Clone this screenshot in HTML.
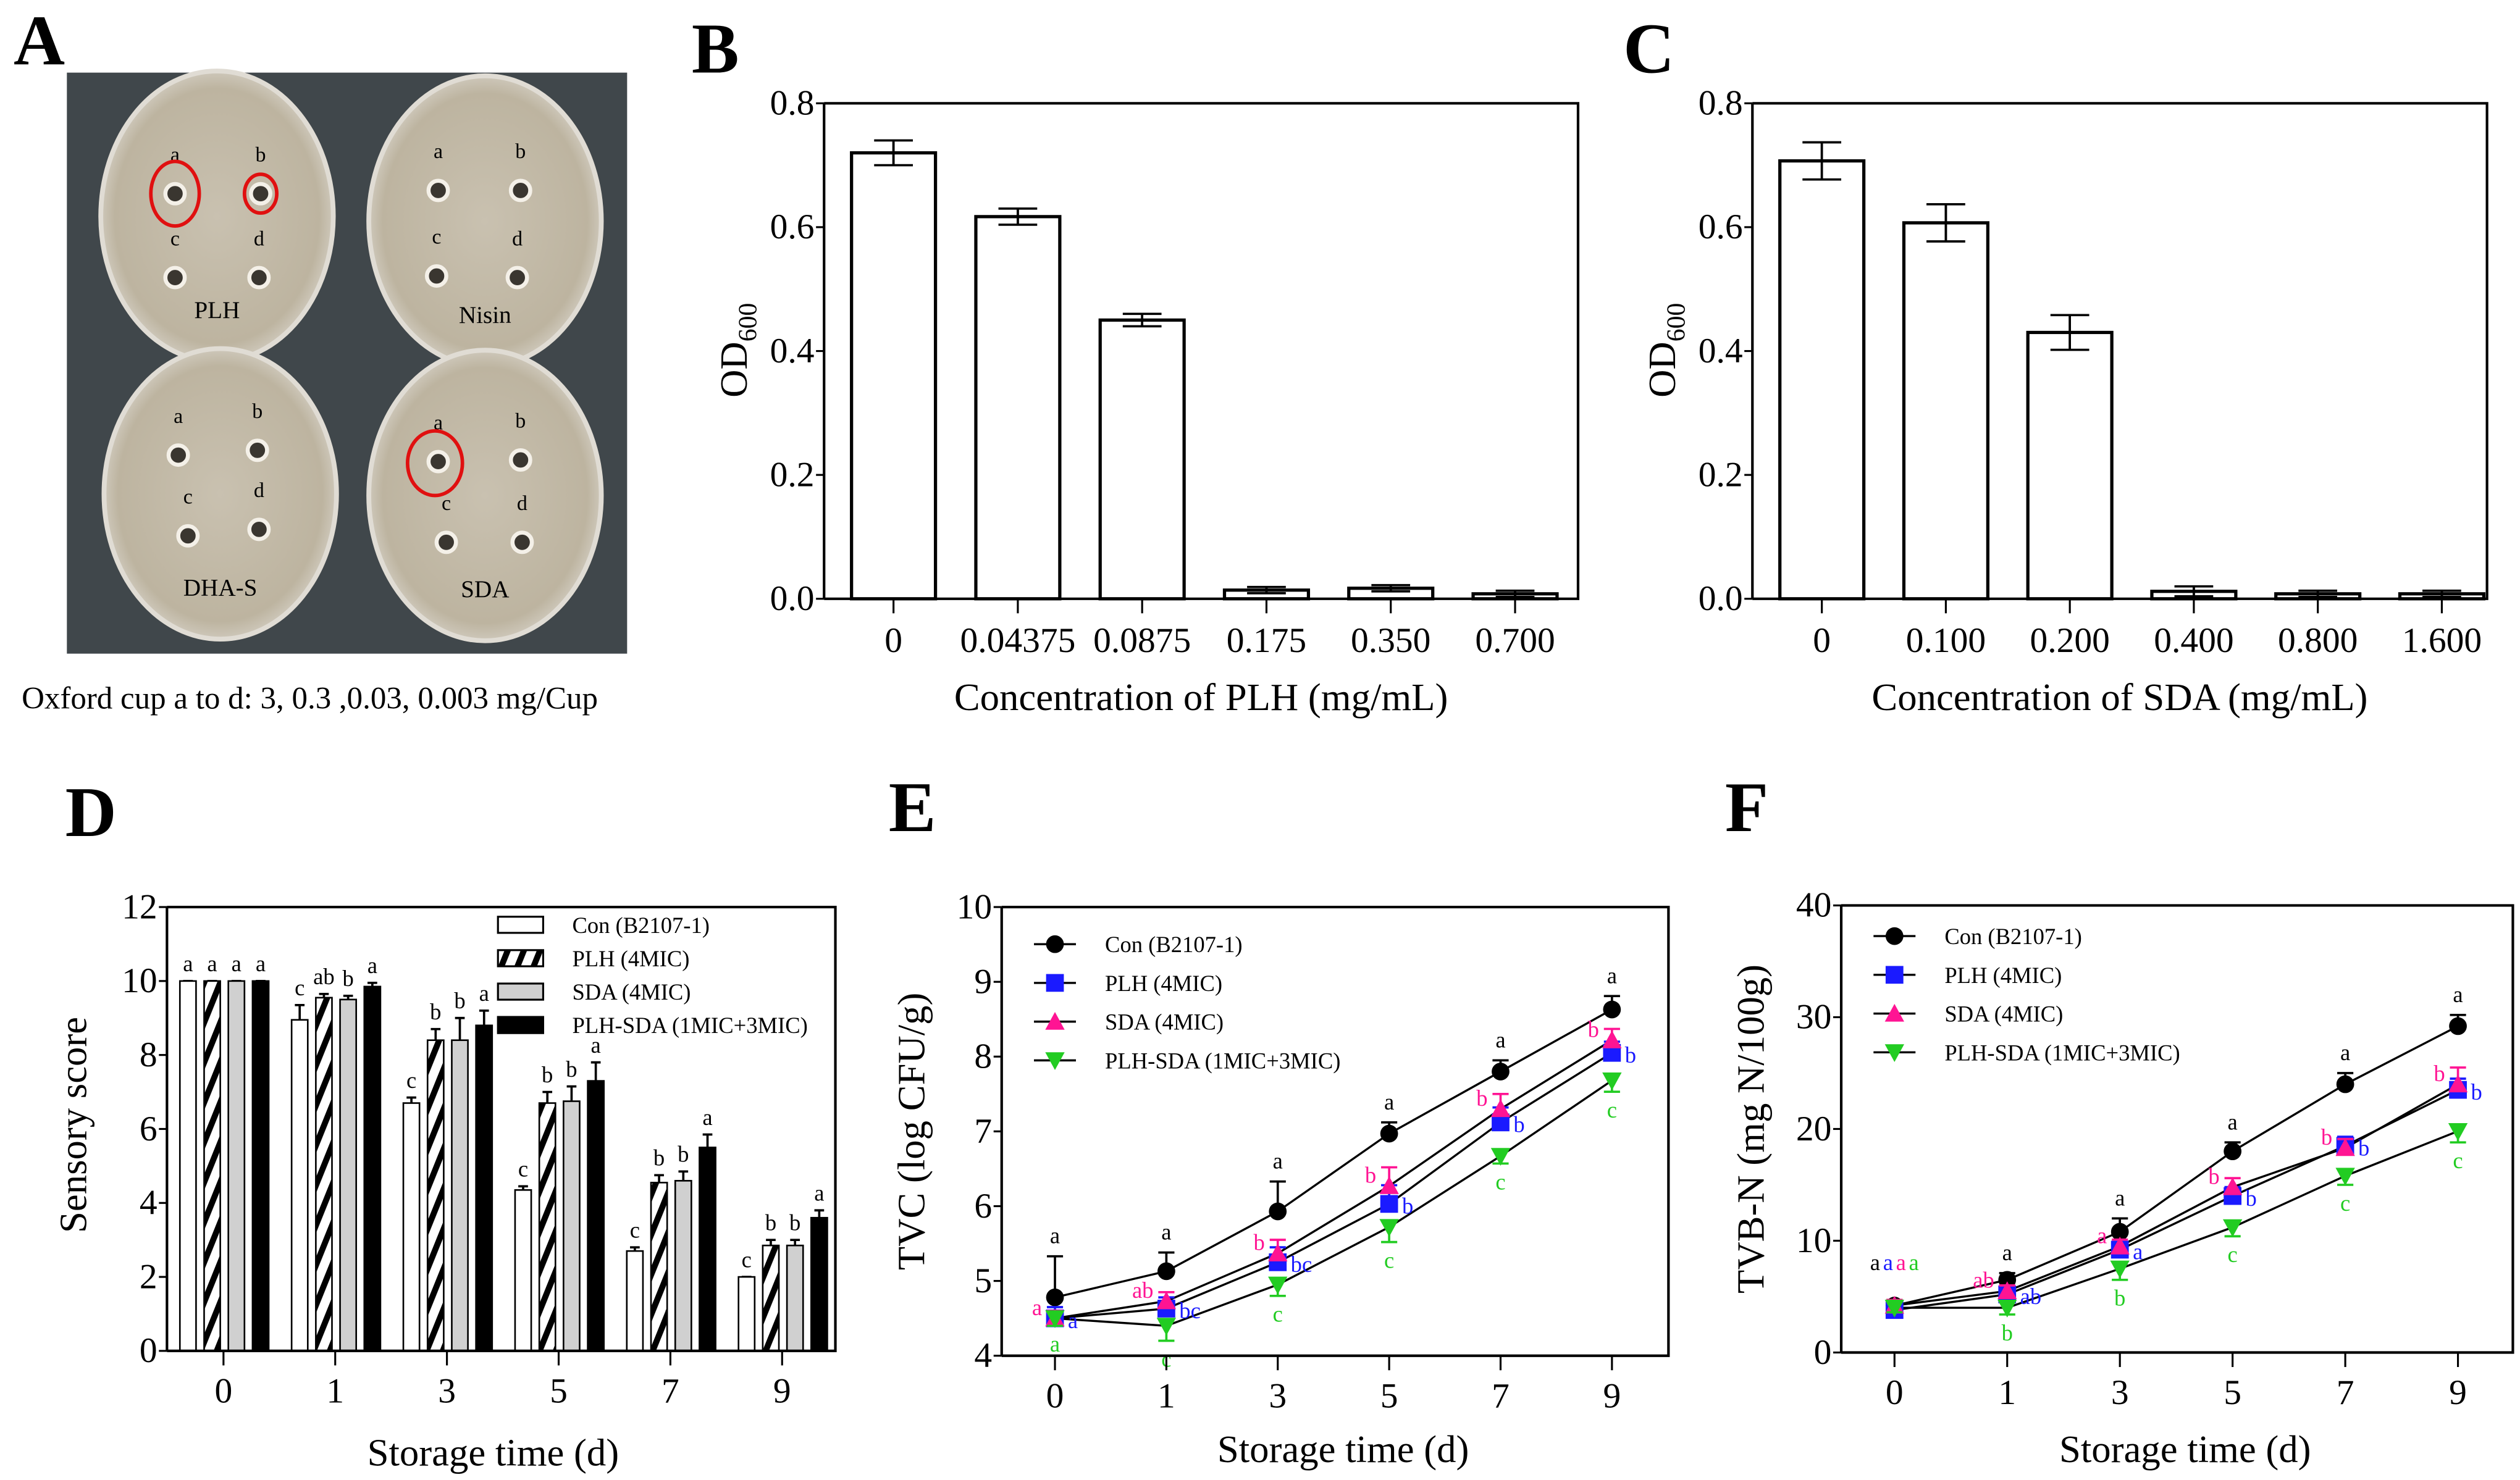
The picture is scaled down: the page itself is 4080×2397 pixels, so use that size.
<!DOCTYPE html>
<html><head><meta charset="utf-8"><style>
html,body{margin:0;padding:0;background:#fff;}
svg{display:block;font-family:"Liberation Serif",serif;}
</style></head><body>
<svg id="fig" width="4080" height="2397" viewBox="0 0 1560 917" xmlns="http://www.w3.org/2000/svg">
<defs>
<pattern id="hatch" patternUnits="userSpaceOnUse" width="10" height="14" patternTransform="skewX(-22)">
<rect width="10" height="14" fill="#fff"/><rect x="0" y="0" width="4" height="14" fill="#000"/></pattern>
<radialGradient id="plate" cx="50%" cy="50%" r="55%"><stop offset="0" stop-color="#c9c1b0"/><stop offset="0.8" stop-color="#bdb4a0"/><stop offset="1" stop-color="#dcd8d0"/></radialGradient>
</defs>
<g id="root"></g>
</svg>
<script>
// ---- data ----
const bCats=["0","0.04375","0.0875","0.175","0.350","0.700"];
const bVals=[0.72,0.617,0.45,0.014,0.017,0.008];
const bErr=[0.02,0.013,0.01,0.005,0.005,0.005];
const cCats=["0","0.100","0.200","0.400","0.800","1.600"];
const cVals=[0.707,0.607,0.43,0.012,0.008,0.008];
const cErr=[0.03,0.03,0.028,0.008,0.005,0.005];
const odTicks=[0,0.2,0.4,0.6,0.8];
const days=["0","1","3","5","7","9"];
const dCon=[10,8.95,6.7,4.35,2.7,2.0];
const dPLH=[10,9.55,8.4,6.7,4.55,2.85];
const dSDA=[10,9.5,8.4,6.75,4.6,2.85];
const dMix=[10,9.85,8.8,7.3,5.5,3.6];
const dConE=[0,0.4,0.15,0.1,0.1,0];
const dPLHE=[0,0.1,0.3,0.3,0.2,0.15];
const dSDAE=[0,0.1,0.6,0.4,0.25,0.15];
const dMixE=[0,0.1,0.4,0.5,0.35,0.2];
const dLet=[["a","c","c","c","c","c"],["a","ab","b","b","b","b"],["a","b","b","b","b","b"],["a","a","a","a","a","a"]];
const dTicks=[0,2,4,6,8,10,12];
const eCon=[4.78,5.13,5.93,6.97,7.8,8.63];
const ePLH=[4.5,4.63,5.25,6.03,7.12,8.05];
const eSDA=[4.5,4.73,5.37,6.27,7.3,8.22];
const eMix=[4.5,4.4,4.95,5.72,6.67,7.68];
const eConE=[0.55,0.25,0.4,0.15,0.15,0.18];
const ePLHE=[0.15,0.15,0.2,0.25,0.2,0.15];
const eSDAE=[0.1,0.12,0.18,0.25,0.2,0.15];
const eMixE=[0.1,0.2,0.15,0.2,0.1,0.15];
const eLet=[["a","a","a","a","a","a"],["a","bc","bc","b","b","b"],["a","ab","b","b","b","b"],["a","c","c","c","c","c"]];
const eTicks=[4,5,6,7,8,9,10];
const fCon=[4.2,6.5,10.8,18.0,24.0,29.2];
const fPLH=[3.8,5.2,9.2,14.0,18.5,23.5];
const fSDA=[4.2,5.5,9.5,14.8,18.3,24.0];
const fMix=[4.0,4.0,7.5,11.2,15.8,19.8];
const fConE=[0.5,0.6,1.2,0.8,1.0,1.0];
const fPLHE=[0.5,0.5,0.6,0.8,0.8,1.0];
const fSDAE=[0.5,0.5,0.6,0.8,0.8,1.5];
const fMixE=[0.4,0.6,1.0,0.8,0.8,1.0];
const fLet=[["a","a","a","a","a","a"],["a","ab","a","b","b","b"],["a","ab","a","b","b","b"],["a","b","b","c","c","c"]];
const fTicks=[0,10,20,30,40];
const seriesNames=["Con (B2107-1)","PLH (4MIC)","SDA (4MIC)","PLH-SDA (1MIC+3MIC)"];
const seriesColors=["#000","#1a1aff","#ff1493","#22cc22"];

const NS="http://www.w3.org/2000/svg";
const root=document.getElementById('root');
function mk(tag,a,p){const e=document.createElementNS(NS,tag);for(const k in a)e.setAttribute(k,a[k]);(p||root).appendChild(e);return e;}
function txt(s,a,p){const e=mk('text',a,p);e.textContent=s;return e;}
function lin(s,d,r0,r1){return v=>r0+(v-d[0])/(d[1]-d[0])*(r1-r0);}

// ---- Panel A (photo) ----
let g=mk('g',{});

let e=txt("A",{x:8,y:40,'font-size':44,'font-weight':'bold'},g);

e=mk('rect',{x:41,y:45,width:347,height:360,fill:'#40474b'},g);

const plates=[[134,134,"PLH",[[108,120],[161,120],[108,172],[160,172]]],[300,137,"Nisin",[[271,118],[322,118],[270,171],[320,172]]],[136,306,"DHA-S",[[110,282],[159,279],[116,332],[160,328]]],[300,307,"SDA",[[271,286],[322,285],[276,336],[323,336]]]];
plates.forEach(p=>{
 let el=mk('ellipse',{cx:p[0],cy:p[1],rx:72,ry:90,fill:'url(#plate)',stroke:'#e0dcd4','stroke-width':3},g);
 
 ["a","b","c","d"].forEach((L,i)=>{
  const c=p[3][i];
  let h=mk('circle',{cx:c[0],cy:c[1],r:6,fill:'#3a3630',stroke:'#f4f0e8','stroke-width':2.5},g);
  
  let t=txt(L,{x:c[0],y:c[1]-20,'font-size':13,'text-anchor':'middle'},g);
  
 });
 let t=txt(p[2],{x:p[0],y:p[1]+63,'font-size':15,'text-anchor':'middle'},g);
 
});
[[108,120,15,20],[161,120,10,12],[269,287,17,20]].forEach(r=>{
 let el=mk('ellipse',{cx:r[0],cy:r[1],rx:r[2],ry:r[3],fill:'none',stroke:'#e01010','stroke-width':2.2},g);
 
});
e=txt("Oxford cup a to d: 3, 0.3 ,0.03, 0.003 mg/Cup",{x:13,y:439,'font-size':19.5},g);


// ---- generic axis helpers ----
function yAxis(g,x,y0,y1,ticks,ys,fmt,fs){
 let a=mk('line',{x1:x,y1:y0,x2:x,y2:y1,stroke:'#000','stroke-width':1.6},g);
 
 ticks.forEach(t=>{
  let l=mk('line',{x1:x-5,x2:x,y1:ys(t),y2:ys(t),stroke:'#000','stroke-width':1.2},g);
  
  let tt=txt(fmt(t),{x:x-6,y:ys(t)+7,'font-size':fs,'text-anchor':'end'},g);
  
 });
}
function frame(g,x0,y0,x1,y1){
 let r=mk('path',{d:`M${x0},${y1}H${x1}V${y0}H${x0}`,fill:'none',stroke:'#000','stroke-width':1.6},g);
 
}
function xTicks(g,xs,labels,yb,fs,ly){
 labels.forEach((L,i)=>{
  let l=mk('line',{x1:xs(i),x2:xs(i),y1:yb,y2:yb+9,stroke:'#000','stroke-width':1.2},g);
  
  let t=txt(L,{x:xs(i),y:ly,'font-size':fs,'text-anchor':'middle'},g);
  
 });
}
function errbar(g,x,y1,y2,w,col){
 let p=mk('path',{d:`M${x},${y1}V${y2}M${x-w},${y2}H${x+w}`,stroke:col,'stroke-width':1.4,fill:'none'},g);
 
}

// ---- Panels B & C ----
function odPanel(id,L,lx,x0,x1,cats,vals,errs,title,c0,step){
 const g=mk('g',{});
 
 let t=txt(L,{x:lx,y:45,'font-size':44,'font-weight':'bold'},g);
 
 const ys=lin(0,[0,0.8],371,64);
 const xs=i=>c0+i*step;
 vals.forEach((v,i)=>{
  let b=mk('rect',{x:xs(i)-26,y:ys(v),width:52,height:371-ys(v),fill:'#fff',stroke:'#000','stroke-width':2},g);
  
  errbar(g,xs(i),ys(v-errs[i]),ys(v+errs[i]),12,'#000');
  errbar(g,xs(i),ys(v+errs[i]),ys(v-errs[i]),12,'#000');
 });
 frame(g,x0,64,x1,371);
 yAxis(g,x0,64,371,odTicks,ys,v=>v.toFixed(1),22);
 xTicks(g,xs,cats,371,22,404);
 t=txt(title,{x:(x0+x1)/2,y:440,'font-size':24,'text-anchor':'middle'},g);
 
 t=mk('text',{transform:`translate(${x0-48},217) rotate(-90)`,'font-size':24,'text-anchor':'middle'},g);
 t.innerHTML='OD<tspan font-size="16" dy="6">600</tspan>';
 
}
odPanel('b','B',428,510,977,bCats,bVals,bErr,"Concentration of PLH (mg/mL)",553,77);
odPanel('c','C',1005,1085,1540,cCats,cVals,cErr,"Concentration of SDA (mg/mL)",1128,76.8);

// ---- Panel D ----
(function(){
 const g=mk('g',{});
 
 let t=txt("D",{x:40,y:518,'font-size':44,'font-weight':'bold'},g);
 
 const ys=lin(0,[0,12],837,562);
 const xs=i=>138+i*69.2;
 const sets=[dCon,dPLH,dSDA,dMix],errs=[dConE,dPLHE,dSDAE,dMixE];
 const fills=['#fff','url(#hatch)','#d0d0d0','#000'];
 const offs=[-22,-7,8,23];
 sets.forEach((s,k)=>s.forEach((v,i)=>{
  const x=xs(i)+offs[k];
  errbar(g,x,ys(v),ys(v+errs[k][i]),3,'#000');
  let b=mk('rect',{x:x-5,y:ys(v),width:10,height:837-ys(v),fill:fills[k],stroke:'#000','stroke-width':1},g);
  
  let l=txt(dLet[k][i],{x:x,y:ys(v+errs[k][i])-6,'font-size':14,'text-anchor':'middle'},g);
  
 }));
 frame(g,103,562,517,837);
 yAxis(g,103,562,837,dTicks,ys,v=>String(v),22);
 xTicks(g,xs,days,837,22,869);
 t=txt("Storage time (d)",{x:305,y:908,'font-size':24,'text-anchor':'middle'},g);
 
 t=txt("Sensory score",{transform:'translate(53,697) rotate(-90)','font-size':24,'text-anchor':'middle'},g);
 
 seriesNames.forEach((n,k)=>{
  const y=573+k*20.7;
  let r=mk('rect',{x:308,y:y-5,width:28,height:10,fill:fills[k],stroke:'#000','stroke-width':1.2},g);
  
  let tt=txt(n,{x:354,y:y+5,'font-size':14},g);
  
 });
})();

// ---- line panels E & F ----
function marker(g,k,x,y){
 const c=seriesColors[k];let m;
 if(k==0)m=mk('circle',{cx:x,cy:y,r:5.5,fill:c},g);
 else if(k==1)m=mk('rect',{x:x-5.5,y:y-5.5,width:11,height:11,fill:c},g);
 else if(k==2)m=mk('path',{d:`M${x},${y-6}L${x+6},${y+5}L${x-6},${y+5}Z`,fill:c},g);
 else m=mk('path',{d:`M${x},${y+6}L${x+6},${y-5}L${x-6},${y-5}Z`,fill:c},g);
 
}
function linePanel(id,L,lx,x0,x1,y0,y1,dom,ticks,sets,errs,lets,ytitle,c0,step,legX,legY){
 const g=mk('g',{});
 
 let t=txt(L,{x:lx,y:515,'font-size':44,'font-weight':'bold'},g);
 
 const ys=lin(0,dom,y1,y0);
 const xs=i=>c0+i*step;
 sets.forEach((s,k)=>{
  let p=mk('polyline',{points:s.map((v,i)=>xs(i)+','+ys(v)).join(' '),fill:'none',stroke:'#000','stroke-width':1.3},g);
  
 });
 sets.forEach((s,k)=>s.forEach((v,i)=>{
  const x=xs(i),c=seriesColors[k];
  const up=(k==3)?-1:1;
  errbar(g,x,ys(v),ys(v+up*errs[k][i]),5,c);
  marker(g,k,x,ys(v));
  let lx2=x,ly=ys(v),anc='middle';
  if(k==0){ly=ys(v+errs[0][i])-8;}
  else if(k==1){lx2=x+8;ly=ys(v)+6;anc='start';}
  else if(k==2){lx2=x-8;ly=ys(v)-2;anc='end';}
  else {ly=ys(v-errs[3][i])+16;}
  const row=(i==0&&id=='f');
  let l=txt(lets[k][i],{x:row?x-12+k*8:lx2,y:row?ys(sets[0][0])-22:ly,'font-size':14,fill:c,'text-anchor':row?'middle':anc},g);
  
 }));
 frame(g,x0,y0,x1,y1);
 yAxis(g,x0,y0,y1,ticks,ys,v=>String(v),22);
 xTicks(g,xs,days,y1,22,y1+32);
 t=txt("Storage time (d)",{x:(x0+x1)/2+5,y:906,'font-size':24,'text-anchor':'middle'},g);
 
 t=txt(ytitle,{transform:`translate(${x0-48},${(y0+y1)/2}) rotate(-90)`,'font-size':24,'text-anchor':'middle'},g);
 
 seriesNames.forEach((n,k)=>{
  const y=legY+k*24;
  let l=mk('line',{x1:legX,x2:legX+26,y1:y,y2:y,stroke:'#000','stroke-width':1.3},g);
  
  marker(g,k,legX+13,y);
  let tt=txt(n,{x:legX+44,y:y+5,'font-size':14},g);
  
 });
}
linePanel('e','E',550,620,1033,562,840,[4,10],eTicks,[eCon,ePLH,eSDA,eMix],[eConE,ePLHE,eSDAE,eMixE],eLet,"TVC (log CFU/g)",653,69,640,585);
linePanel('f','F',1068,1140,1556,561,838,[0,40],fTicks,[fCon,fPLH,fSDA,fMix],[fConE,fPLHE,fSDAE,fMixE],fLet,"TVB-N (mg N/100g)",1173,69.8,1160,580);
</script>
</body></html>
